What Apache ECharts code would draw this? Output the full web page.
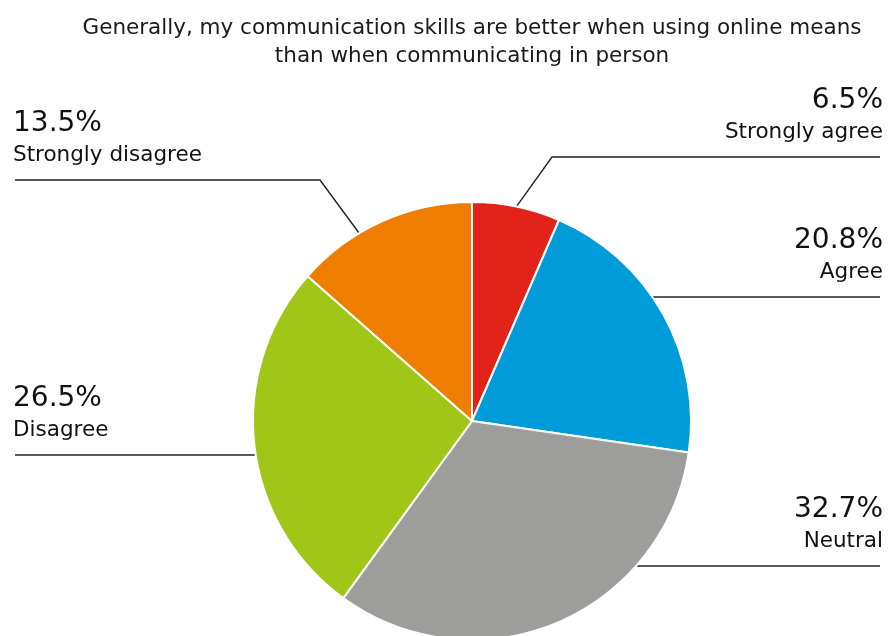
<!DOCTYPE html>
<html>
<head>
<meta charset="utf-8">
<script src="https://cdn.jsdelivr.net/npm/echarts@6/dist/echarts.min.js"></script>
<style>
  html, body { margin: 0; padding: 0; background: #ffffff; }
  #chart { width: 890px; height: 636px; }
</style>
</head>
<body>
<div id="chart"></div>
<script>
// Survey answers, clockwise from 12 o'clock
const categories = ['Strongly agree', 'Agree', 'Neutral', 'Disagree', 'Strongly disagree'];
const shares = [6.5, 20.8, 32.7, 26.5, 13.5];
const sliceColors = ['#e2231a', '#009cd9', '#9d9d9c', '#a2c617', '#ef7d00'];
const titleText = 'Generally, my communication skills are better when using online means\nthan when communicating in person';

// Pie geometry
const pieCenter = [472, 421];
const pieRadius = 219;

// Where each callout sits: side of the chart, height of its rule,
// optional elbow and optional anchor angle (degrees clockwise from 12 o'clock)
const calloutSpots = [
  { side: 'right', lineY: 157, elbowX: 552 },
  { side: 'right', lineY: 297 },
  { side: 'right', lineY: 566 },
  { side: 'left', lineY: 455 },
  { side: 'left', lineY: 180, elbowX: 320, anchorDeg: 329 }
];
const rightTextX = 883;
const leftTextX = 13;
const rightRuleEnd = 880;
const leftRuleEnd = 15;

const fontFamily = '"DejaVu Sans", sans-serif';

const chart = echarts.init(document.getElementById('chart'), null, { renderer: 'canvas' });

function edgeAtY(y, side) {
  const dy = y - pieCenter[1];
  const dx = Math.sqrt(Math.max(0, pieRadius * pieRadius - dy * dy));
  return side === 'right' ? pieCenter[0] + dx : pieCenter[0] - dx;
}

function edgeAtAngle(deg) {
  const a = deg * Math.PI / 180;
  return [pieCenter[0] + pieRadius * Math.sin(a), pieCenter[1] - pieRadius * Math.cos(a)];
}

chart.setOption({
  animation: false,
  backgroundColor: '#ffffff',
  title: {
    text: titleText,
    left: 467,
    top: 9,
    textAlign: 'center',
    textStyle: {
      fontFamily: fontFamily,
      fontSize: 21.5,
      fontWeight: 'normal',
      color: '#1a1a1a',
      lineHeight: 28
    }
  },
  series: [{
    type: 'pie',
    center: pieCenter,
    radius: pieRadius,
    startAngle: 90,
    clockwise: true,
    avoidLabelOverlap: false,
    itemStyle: { borderColor: '#ffffff', borderWidth: 2 },
    emphasis: { disabled: true },
    data: categories.map((name, i) => ({
      name: name,
      value: shares[i],
      itemStyle: { color: sliceColors[i] }
    })),
    label: {
      show: true,
      position: 'outside',
      formatter: p => '{p|' + p.value.toFixed(1) + '%}\n{n|' + p.name + '}',
      rich: {
        p: { fontFamily: fontFamily, fontSize: 28, lineHeight: 33, color: '#111111' },
        n: { fontFamily: fontFamily, fontSize: 21.5, lineHeight: 30, color: '#111111' }
      }
    },
    labelLine: {
      show: true,
      length: 20,
      length2: 20,
      lineStyle: { color: '#222222', width: 1.4 }
    },
    labelLayout: function (params) {
      const spot = calloutSpots[params.dataIndex];
      const isRight = spot.side === 'right';
      const ruleEnd = isRight ? rightRuleEnd : leftRuleEnd;
      let points;
      if (spot.elbowX != null) {
        const edge = spot.anchorDeg != null ? edgeAtAngle(spot.anchorDeg) : params.labelLinePoints[0];
        points = [[edge[0], edge[1]], [spot.elbowX, spot.lineY], [ruleEnd, spot.lineY]];
      } else {
        const ex = edgeAtY(spot.lineY, spot.side);
        points = [[ex, spot.lineY], [(ex + ruleEnd) / 2, spot.lineY], [ruleEnd, spot.lineY]];
      }
      return {
        x: isRight ? rightTextX : leftTextX,
        y: spot.lineY - 10,
        align: isRight ? 'right' : 'left',
        verticalAlign: 'bottom',
        labelLinePoints: points
      };
    }
  }]
});
</script>
</body>
</html>
